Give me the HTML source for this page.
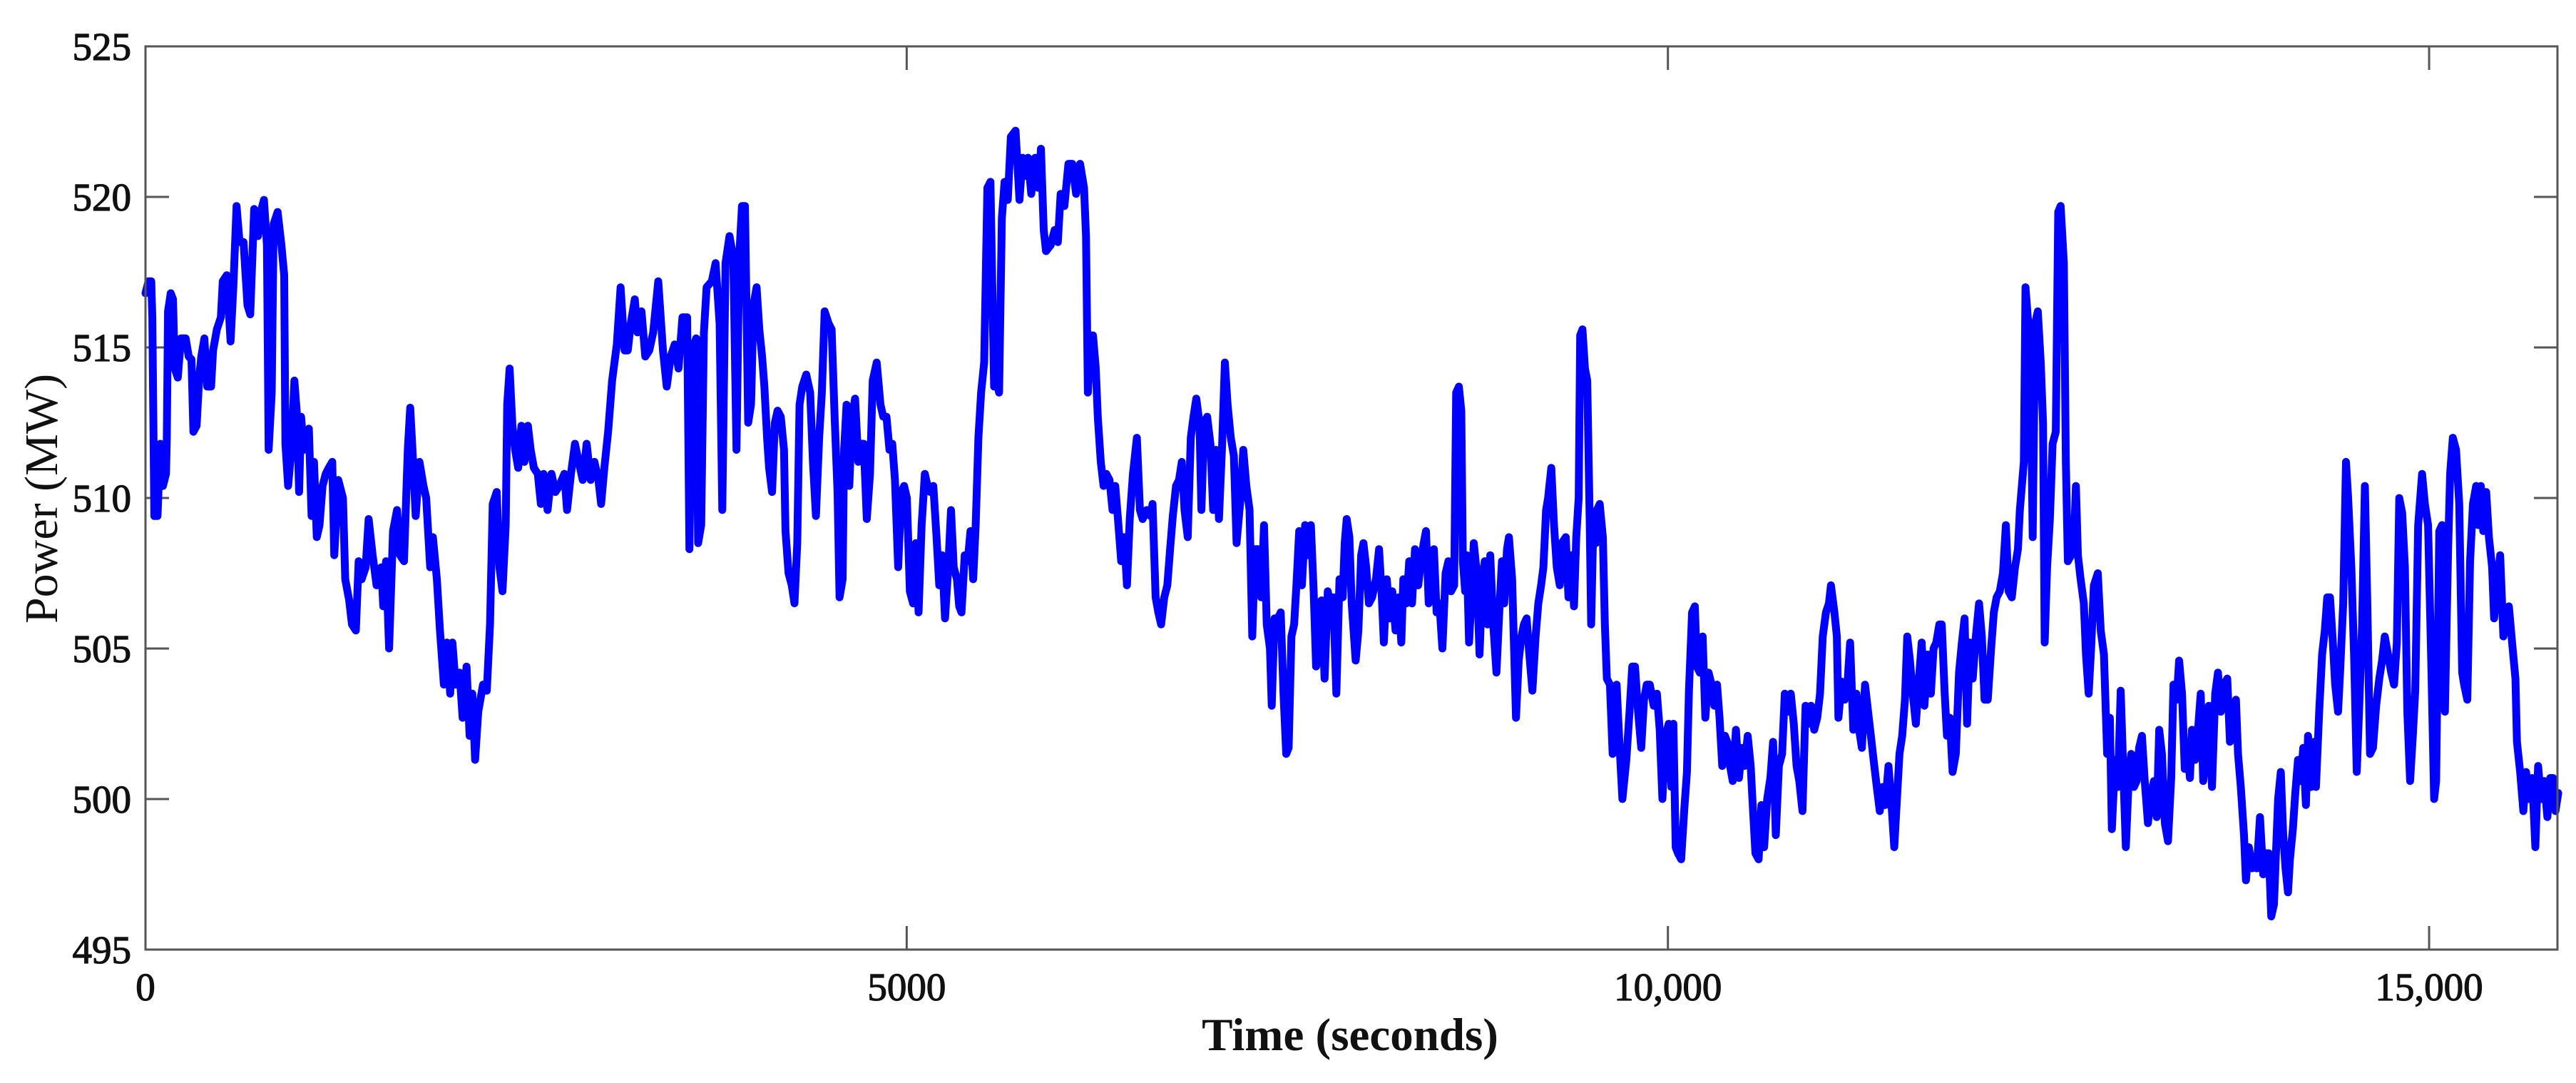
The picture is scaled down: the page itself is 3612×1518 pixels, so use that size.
<!DOCTYPE html>
<html><head><meta charset="utf-8"><style>
html,body{margin:0;padding:0;background:#fff;}
svg{display:block;}
text{font-family:"Liberation Serif",serif;fill:#111;}
</style></head><body>
<svg id="chart" width="3612" height="1518" viewBox="0 0 3612 1518" xmlns="http://www.w3.org/2000/svg">
<rect x="0" y="0" width="3612" height="1518" fill="#fff"/>
<g id="ticks"></g>
<g id="series"></g>
<rect x="204" y="65" width="3382" height="1266" fill="none" stroke="#555" stroke-width="3"/>
<g id="labels"></g>
<text x="1893" y="1472" font-size="65" font-weight="bold" text-anchor="middle">Time (seconds)</text>
<text transform="translate(80,699) rotate(-90)" font-size="66" text-anchor="middle">Power (MW)</text>
</svg>
<script>
const xTicks = [0, 5000, 10000, 15000];
const xTickLabels = ["0", "5000", "10,000", "15,000"];
const yTicks = [495, 500, 505, 510, 515, 520, 525];
const yTickLabels = ["495", "500", "505", "510", "515", "520", "525"];
const timeSec = [0,20,38,45,58,79,97,115,135,140,148,166,181,192,212,233,264,284,302,315,336,354,367,387,405,431,444,469,495,508,534,559,577,598,618,644,670,688,714,739,757,778,798,809,829,842,868,893,911,919,937,958,978,996,1009,1022,1040,1055,1073,1091,1107,1125,1143,1163,1184,1204,1227,1240,1266,1297,1312,1338,1356,1382,1400,1420,1446,1466,1492,1518,1549,1562,1580,1600,1626,1652,1672,1698,1723,1739,1754,1775,1800,1826,1844,1870,1888,1914,1934,1960,1980,2001,2016,2037,2063,2083,2109,2129,2147,2165,2186,2217,2242,2263,2281,2307,2325,2345,2366,2376,2392,2410,2428,2448,2469,2489,2512,2530,2551,2577,2597,2615,2641,2667,2692,2718,2751,2769,2795,2821,2846,2872,2898,2924,2949,2975,2993,3014,3039,3065,3096,3121,3147,3168,3188,3214,3232,3258,3283,3309,3335,3368,3399,3424,3450,3476,3501,3527,3558,3573,3591,3617,3630,3650,3668,3686,3720,3745,3771,3789,3810,3836,3861,3882,3900,3918,3938,3959,3977,
3980,3993,4014,4032,4050,4065,4083,4096,4116,4134,4152,4173,4194,4204,4224,4245,4263,4281,4296,4314,4340,4366,4384,4404,4425,4443,4461,4487,4507,4528,4546,4559,4579,4589,4605,4623,4641,4661,4682,4700,4718,4738,4759,4777,4803,4828,4846,4867,4887,4905,4923,4944,4965,4983,5001,5021,5042,5060,5078,5098,5119,5137,5155,5175,5196,5214,5232,5252,5273,5291,5309,5330,5345,5360,5381,5401,5419,5437,5453,5471,5489,5509,5530,5550,5574,5592,5607,5625,5643,5664,5684,5715,5741,5761,5779,5797,5818,5844,5864,5882,5900,5915,5946,5972,5993,6011,6036,6062,6088,6113,6139,6165,6178,6190,6208,6224,6242,6255,6275,6293,6311,6332,6352,6370,6388,6409,6429,6447,6465,6486,6512,6532,6550,6576,6602,6615,6635,6653,6671,6692,6712,6730,6748,6769,6789,6807,6825,6846,6866,6884,6902,6923,6936,6954,6974,6995,7013,7031,7051,7072,7090,7108,7129,7149,7167,7193,7211,7231,7252,7270,7288,7308,7329,7347,7365,7386,7398,7416,7437,7457,7475,7493,7509,7527,7545,7560,7578,7596,7617,7637,7655,7673,7689,7707,7725,7745,7766,7784,7802,7822,7843,
7864,7877,7890,7908,7923,7949,7967,7985,8000,8018,8036,8057,8082,8103,8121,8134,8154,8172,8190,8211,8231,8249,8262,8283,8301,8319,8339,8360,8378,8396,8411,8429,8447,8463,8481,8499,8519,8540,8558,8576,8596,8609,8627,8643,8653,8668,8679,8694,8712,8725,8745,8763,8781,8797,8815,8833,8853,8874,8892,8910,8925,8943,8956,8977,8987,9002,9020,9038,9054,9072,9090,9110,9131,9149,9167,9182,9200,9213,9234,9252,9270,9290,9303,9329,9347,9367,9383,9398,9414,9424,9439,9455,9470,9486,9496,9509,9527,9534,9552,9573,9586,9599,9619,9637,9663,9681,9701,9727,9748,9766,9784,9804,9825,9843,9861,9881,9907,9928,9946,9964,9984,10005,10023,10036,10051,10066,10087,10107,10125,10138,10159,10177,10190,10210,10228,10246,10267,10287,10305,10323,10339,10357,10375,10390,10408,10426,10447,10467,10485,10503,10524,10544,10555,10575,10596,10614,10632,10652,10673,10691,10709,10729,10750,10768,10786,10807,10827,10845,10863,10884,10904,10922,10940,10961,10981,10999,11017,11038,11058,11071,11094,11110,11120,11141,11161,11179,11197,11218,11238,11256,11274,11295,11315,11333,11351,11372,11392,11410,11428,11449,11469,11487,11500,11521,11539,11557,11572,11590,11608,11629,11649,11667,11685,11706,11727,11745,11763,11783,
11799,11818,11833,11852,11870,11891,11912,11931,11949,11965,11983,12002,12023,12044,12062,12080,12101,12123,12141,12159,12180,12201,12220,12238,12259,12280,12299,12312,12325,12338,12349,12364,12380,12396,12412,12430,12449,12464,12475,12491,12509,12527,12548,12564,12580,12601,12614,12627,12648,12667,12680,12693,12711,12732,12746,12764,12780,12798,12824,12843,12864,12885,12903,12916,12937,12956,12974,12990,13008,13027,13043,13061,13079,13095,13114,13132,13153,13174,13193,13211,13227,13245,13264,13285,13306,13321,13342,13358,13377,13395,13411,13429,13442,13463,13482,13500,13516,13534,13553,13574,13595,13613,13632,13653,13674,13692,13710,13731,13745,13763,13784,13797,13816,13837,13850,13868,13889,13910,13929,13947,13963,13981,13994,14008,14026,14042,14057,14073,14086,14105,14121,14139,14157,14173,14191,14205,14226,14244,14257,14278,14297,14315,14331,14349,14368,14383,14402,14415,14436,14454,14468,14489,14507,14525,14541,14560,14578,14594,14612,14631,14652,14673,14691,14709,14730,14751,14770,14788,14804,14823,14841,14857,14875,14893,14909,14928,14954,14972,14993,15014,15033,15046,15067,15085,15104,15125,15138,15156,15177,15198,15217,15230,15251,15269,15288,15309,15322,15340,15356,15375,15393,15414,15427,15446,15467,15488,15506,15524,15545,15567,15577,15598,15619,15637,15656,15677,15698,15716,15735,15756,15777,15795,15814,15830,15848];
const powerMW = [516.8,517.2,517.2,516.0,509.4,509.4,511.8,510.4,510.8,512.0,516.2,516.8,516.6,514.3,514.0,515.3,515.3,514.7,514.6,512.2,512.4,514.1,514.7,515.3,513.7,513.7,514.9,515.6,516.0,517.2,517.4,515.2,517.0,519.7,518.5,518.5,516.4,516.1,519.6,518.7,519.5,519.9,518.4,511.6,513.5,519.1,519.5,518.4,517.4,511.8,510.4,511.6,513.9,512.7,510.2,512.7,511.6,512.2,512.3,509.4,511.2,508.7,509.1,510.4,510.8,511.0,511.2,508.1,510.6,510.0,507.3,506.6,505.8,505.6,507.9,507.3,507.7,509.3,508.1,507.1,507.7,506.4,507.9,505.0,508.9,509.6,508.1,507.9,511.6,513.0,511.6,509.4,511.2,510.4,510.0,507.7,508.7,507.3,505.6,503.8,505.2,503.5,505.2,503.8,504.2,502.7,504.4,502.1,503.5,501.3,502.9,503.8,503.6,505.8,509.8,510.2,507.7,506.9,509.1,513.1,514.3,512.4,511.6,511.0,512.4,511.2,512.4,511.6,511.0,510.8,509.8,510.8,509.6,510.8,510.2,510.4,510.8,509.6,510.8,511.8,511.2,510.6,511.8,510.6,511.2,510.6,509.8,511.0,512.2,513.9,515.1,517.0,514.9,514.9,515.8,516.6,515.5,516.2,514.7,514.9,515.5,517.2,514.9,513.7,514.7,515.1,514.3,516.0,516.0,508.3,514.9,515.3,508.5,509.1,515.5,517.0,517.2,517.8,515.8,509.6,517.8,518.7,518.0,511.6,518.0,519.7,519.7,512.5,513.1,
513.5,516.4,517.0,515.6,514.7,513.7,512.0,511.0,510.2,512.5,512.9,512.7,511.6,508.9,507.5,507.1,506.5,508.5,513.1,513.7,514.1,513.5,511.2,509.4,512.0,513.5,516.2,515.8,515.6,512.5,510.2,506.7,507.3,511.6,513.1,510.4,512.7,513.3,511.2,511.8,511.8,509.3,510.8,513.9,514.5,513.1,512.7,512.7,511.6,511.8,510.6,507.7,510.2,510.4,510.0,506.9,506.5,508.5,506.2,509.1,510.8,510.4,510.2,510.4,508.7,507.1,508.1,506.0,507.7,509.6,507.7,507.3,506.4,506.2,508.1,507.9,508.9,507.3,509.1,512.0,513.5,514.5,520.3,520.5,513.7,513.9,513.5,519.3,520.5,519.9,522.0,522.2,519.9,521.3,520.7,521.3,520.1,521.3,520.3,521.6,518.9,518.2,518.4,518.9,518.5,520.1,519.7,521.1,521.1,520.1,521.1,520.3,518.7,513.5,515.4,515.4,514.3,512.7,511.2,510.4,510.8,510.6,509.6,510.4,509.3,507.9,508.7,507.1,509.3,510.8,512.0,509.6,509.3,509.6,509.4,509.8,506.7,506.2,505.8,506.7,507.1,508.3,509.4,510.4,510.6,511.2,509.6,508.7,512.0,512.7,513.3,512.5,509.6,512.5,512.7,511.8,509.6,511.6,509.3,511.8,514.5,513.1,512.0,511.4,508.5,510.0,511.6,510.4,509.6,505.4,508.3,508.3,506.7,509.1,505.8,505.0,503.1,506.0,506.0,506.2,503.5,501.5,501.7,505.4,505.8,507.1,508.9,507.1,509.1,508.1,509.1,506.9,504.4,504.8,506.6,504.0,506.9,506.4,506.7,503.5,507.3,
506.7,508.5,509.3,508.7,506.5,504.6,505.6,508.1,508.5,507.7,506.5,506.7,507.3,508.3,506.7,505.2,507.3,506.0,506.9,505.6,506.7,505.2,507.3,506.5,507.9,506.5,508.3,507.1,507.9,508.5,508.9,506.5,507.3,508.3,506.2,506.5,505.0,507.5,507.9,506.9,507.1,513.5,513.7,512.9,507.9,506.9,508.1,505.2,506.9,508.5,507.5,504.8,507.3,507.9,505.8,508.1,505.8,504.2,506.2,507.9,506.5,508.3,508.7,507.3,505.4,502.7,504.6,505.4,505.8,506.0,504.8,503.6,505.4,506.5,507.1,507.7,509.6,510.0,511.0,509.1,507.7,507.1,508.5,508.7,506.7,508.1,506.4,508.7,510.0,515.4,515.6,514.3,513.9,509.3,505.8,508.9,508.5,509.6,509.8,508.7,505.8,504.0,503.8,501.5,503.8,501.9,500.0,501.3,502.9,504.4,504.4,502.9,501.7,503.3,503.8,503.8,503.1,503.5,502.3,500.0,502.1,502.5,500.4,502.5,498.4,498.2,498.0,499.6,500.9,503.6,506.2,506.4,504.4,504.2,505.4,502.7,504.2,503.8,503.1,503.8,502.7,501.1,502.1,501.9,501.1,500.6,502.3,500.7,501.7,501.1,502.1,501.1,500.0,498.2,498.0,499.8,498.4,500.0,500.7,501.9,498.8,501.1,501.5,503.5,502.9,503.5,502.5,501.1,500.6,499.6,503.1,502.5,503.1,502.3,502.7,503.5,505.4,506.2,506.5,507.1,506.2,505.4,502.7,503.9,503.3,503.8,505.2,502.3,503.5,502.3,501.7,503.8,502.9,502.1,501.3,500.4,499.6,500.4,499.8,501.1,499.8,498.4,499.6,501.5,502.1,503.3,505.4,504.6,503.5,502.5,504.0,505.2,503.1,504.8,503.5,505.0,505.2,505.8,
505.8,503.5,502.1,502.7,500.9,501.5,504.2,505.2,506.0,502.5,505.2,504.0,505.4,506.5,505.4,503.3,503.3,505.0,506.2,506.7,506.9,507.5,509.1,506.9,506.7,507.7,508.3,509.6,510.4,511.2,517.0,516.0,514.9,508.7,515.8,516.2,514.5,512.5,505.2,507.7,509.3,511.8,512.2,519.5,519.7,517.8,511.2,507.9,508.1,508.5,510.4,508.1,507.3,506.5,504.8,503.5,505.0,507.1,507.5,505.6,504.8,501.5,502.7,499.0,501.3,500.4,503.6,501.1,498.4,500.7,501.5,500.4,500.6,501.7,502.1,500.6,499.2,500.2,500.6,499.4,502.3,501.5,499.2,498.6,500.7,503.8,503.3,504.6,503.5,501.0,501.7,500.7,502.3,501.3,502.3,503.5,500.6,501.5,503.1,500.4,503.5,504.2,502.9,503.8,504.0,501.9,502.5,503.3,501.5,500.4,498.8,497.3,498.4,497.7,498.0,497.7,499.4,497.5,498.2,498.2,496.1,496.5,498.2,500.0,500.9,498.8,497.7,496.9,498.0,499.0,500.2,501.3,500.6,501.7,499.8,502.1,500.4,501.9,500.4,502.9,504.8,505.6,506.7,506.7,505.2,503.8,502.9,504.2,506.5,511.2,510.0,507.7,504.8,500.9,503.1,505.8,510.4,506.5,501.5,501.7,503.1,504.0,504.6,505.4,504.8,504.2,503.8,505.2,510.0,509.5,507.7,502.9,500.6,502.1,503.6,509.1,510.8,509.8,509.1,504.6,500.0,500.6,508.9,509.1,502.9,508.3,510.8,512.0,511.6,509.8,504.2,503.8,503.3,507.9,509.8,510.4,509.1,510.4,508.9,510.2,508.7,507.7,506.0,507.1,508.1,505.4,506.0,506.4,505.2,504.0,501.9,500.9,499.6,500.9,500.0,500.7,498.4,501.1,500.0,500.6,499.4,500.7,500.7,499.6,500.2];

const PL = 204, PR = 3586, PT = 65, PB = 1331;
const X0 = 0, X1 = 15843, Y0 = 495, Y1 = 525;
function xs(t){ return PL + (t - X0) / (X1 - X0) * (PR - PL); }
function ys(v){ return PB - (v - Y0) / (Y1 - Y0) * (PB - PT); }
const NS = "http://www.w3.org/2000/svg";
const tickG = document.getElementById('ticks');
const labG = document.getElementById('labels');
const serG = document.getElementById('series');

xTicks.forEach((t, i) => {
  const x = xs(t);
  [[PB, PB - 33], [PT, PT + 33]].forEach(([a, b], k) => {
    const l = document.createElementNS(NS, 'line');
    l.setAttribute('x1', x); l.setAttribute('x2', x);
    l.setAttribute('y1', a); l.setAttribute('y2', b);
    l.setAttribute('stroke', '#555'); l.setAttribute('stroke-width', '3');
    
    
    tickG.appendChild(l);
  });
  const tx = document.createElementNS(NS, 'text');
  tx.setAttribute('x', x); tx.setAttribute('y', 1402);
  tx.setAttribute('font-size', '55'); tx.setAttribute('text-anchor', 'middle');
  tx.setAttribute('stroke', '#111'); tx.setAttribute('stroke-width', '1.2');
  tx.textContent = xTickLabels[i];
  
  
  labG.appendChild(tx);
});

yTicks.forEach((v, i) => {
  const y = ys(v);
  [[PL, PL + 33], [PR, PR - 33]].forEach(([a, b], k) => {
    const l = document.createElementNS(NS, 'line');
    l.setAttribute('x1', a); l.setAttribute('x2', b);
    l.setAttribute('y1', y); l.setAttribute('y2', y);
    l.setAttribute('stroke', '#555'); l.setAttribute('stroke-width', '3');
    
    
    tickG.appendChild(l);
  });
  const tx = document.createElementNS(NS, 'text');
  tx.setAttribute('x', 184); tx.setAttribute('y', y + 19);
  tx.setAttribute('font-size', '55'); tx.setAttribute('text-anchor', 'end');
  tx.setAttribute('stroke', '#111'); tx.setAttribute('stroke-width', '1.2');
  tx.textContent = yTickLabels[i];
  
  
  labG.appendChild(tx);
});

let d = '';
for (let i = 0; i < timeSec.length && i < powerMW.length; i++) {
  d += (i ? 'L' : 'M') + xs(timeSec[i]).toFixed(1) + ',' + ys(powerMW[i]).toFixed(1);
}
const path = document.createElementNS(NS, 'path');
path.setAttribute('d', d);
path.setAttribute('fill', 'none');
path.setAttribute('stroke', '#0000ff');
path.setAttribute('stroke-width', '11');
path.setAttribute('stroke-linejoin', 'round');
path.setAttribute('stroke-linecap', 'round');


serG.appendChild(path);
</script>
</body></html>
